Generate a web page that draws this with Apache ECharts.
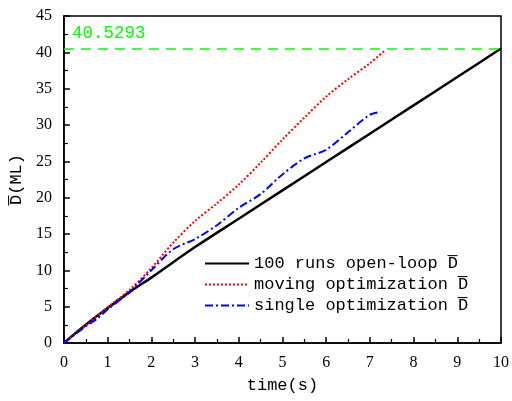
<!DOCTYPE html>
<html>
<head>
<meta charset="utf-8">
<script src="https://cdn.jsdelivr.net/npm/echarts@6/dist/echarts.min.js"></script>
<style>
html,body{margin:0;padding:0;background:#fff;}
#chart{width:512px;height:401px;}
</style>
</head>
<body>
<div id="chart"></div>
<script>
var openTime = [0, 0.5, 1, 1.5, 2, 3, 4, 5, 6, 7, 8, 9, 10];
var openD = [0, 2.5, 4.8, 7.0, 9.0, 13.2, 17.1, 21.0, 24.9, 28.8, 32.7, 36.6, 40.53];

var movTime = [0, 0.5, 1, 1.5, 2, 2.5, 3, 3.5, 4, 4.5, 5, 5.5, 6, 6.5, 7, 7.35];
var movD = [0, 2.4, 4.9, 7.3, 10.3, 13.8, 16.8, 19.2, 21.8, 24.8, 28.0, 31.0, 33.9, 36.3, 38.5, 40.3];

var sinTime = [0, 0.5, 0.75, 1, 1.5, 2, 2.5, 3, 3.5, 4, 4.5, 5, 5.5, 6, 6.5, 7, 7.25];
var sinD = [0, 2.3, 3.3, 4.6, 7.0, 10.0, 12.9, 14.3, 16.2, 18.6, 20.5, 23.2, 25.4, 26.6, 29.0, 31.4, 31.8];

var finalD = 40.5293;

var pairs = function (xs, ys) {
    var res = [];
    for (var i = 0; i < xs.length; i++) {
        res.push([xs[i], ys[i]]);
    }
    return res;
};

var chart = echarts.init(document.getElementById('chart'));
var tickFont = {color: '#000', fontFamily: 'Liberation Serif', fontSize: 16};
var option = {
    animation: false,
    grid: {
        left: 63, right: 11, top: 16, bottom: 58,
        show: true, borderColor: '#000', borderWidth: 1.5
    },
    legend: {
        orient: 'vertical',
        left: 199, top: 250,
        itemWidth: 44, itemHeight: 14, itemGap: 4,
        itemStyle: {opacity: 0},
        textStyle: {color: '#000', fontFamily: 'Liberation Mono', fontSize: 17},
        data: ['100 runs open-loop D\u0305', 'moving optimization D\u0305', 'single optimization D\u0305']
    },
    xAxis: {
        type: 'value', min: 0, max: 10, interval: 1,
        name: 'time(s)', nameLocation: 'middle', nameGap: 34,
        nameTextStyle: {color: '#000', fontFamily: 'Liberation Mono', fontSize: 17},
        axisLine: {lineStyle: {color: '#000', width: 1.5}},
        axisTick: {inside: true, length: 6, lineStyle: {color: '#000', width: 1.5}},
        minorTick: {show: true, splitNumber: 2, length: 4, lineStyle: {color: '#000', width: 1.2}},
        axisLabel: Object.assign({margin: 12}, tickFont),
        splitLine: {show: false}
    },
    yAxis: {
        type: 'value', min: 0, max: 45, interval: 5,
        name: 'D\u0305(ML)', nameLocation: 'middle', nameGap: 36,
        nameTextStyle: {color: '#000', fontFamily: 'Liberation Mono', fontSize: 17},
        axisLine: {show: true, lineStyle: {color: '#000', width: 1.5}},
        axisTick: {show: true, inside: true, length: 6, lineStyle: {color: '#000', width: 1.5}},
        minorTick: {show: true, splitNumber: 2, length: 4, lineStyle: {color: '#000', width: 1.2}},
        axisLabel: Object.assign({margin: 12}, tickFont),
        splitLine: {show: false}
    },
    series: [
        {
            name: '100 runs open-loop D\u0305',
            type: 'line', symbol: 'none', smooth: 0.3,
            data: pairs(openTime, openD),
            itemStyle: {color: '#000'},
            lineStyle: {color: '#000', width: 2.5},
            z: 3,
            markLine: {
                silent: true, symbol: 'none',
                lineStyle: {color: '#00ff00', type: [10, 7], width: 1.5},
                label: {
                    show: true, position: 'insideStartTop', distance: [8, 6],
                    formatter: '40.5293',
                    color: '#00ff00', fontFamily: 'Liberation Mono', fontSize: 17.5
                },
                data: [{yAxis: finalD}]
            }
        },
        {
            name: 'moving optimization D\u0305',
            type: 'line', symbol: 'none', smooth: 0.3,
            data: pairs(movTime, movD),
            itemStyle: {color: '#ff0000'},
            lineStyle: {color: '#ff0000', width: 2, type: [2, 2]}
        },
        {
            name: 'single optimization D\u0305',
            type: 'line', symbol: 'none', smooth: 0.3,
            data: pairs(sinTime, sinD),
            itemStyle: {color: '#0000ff'},
            lineStyle: {color: '#0000ff', width: 2, type: [8, 3, 2, 3]}
        }
    ]
};
chart.setOption(option);
</script>
</body>
</html>
